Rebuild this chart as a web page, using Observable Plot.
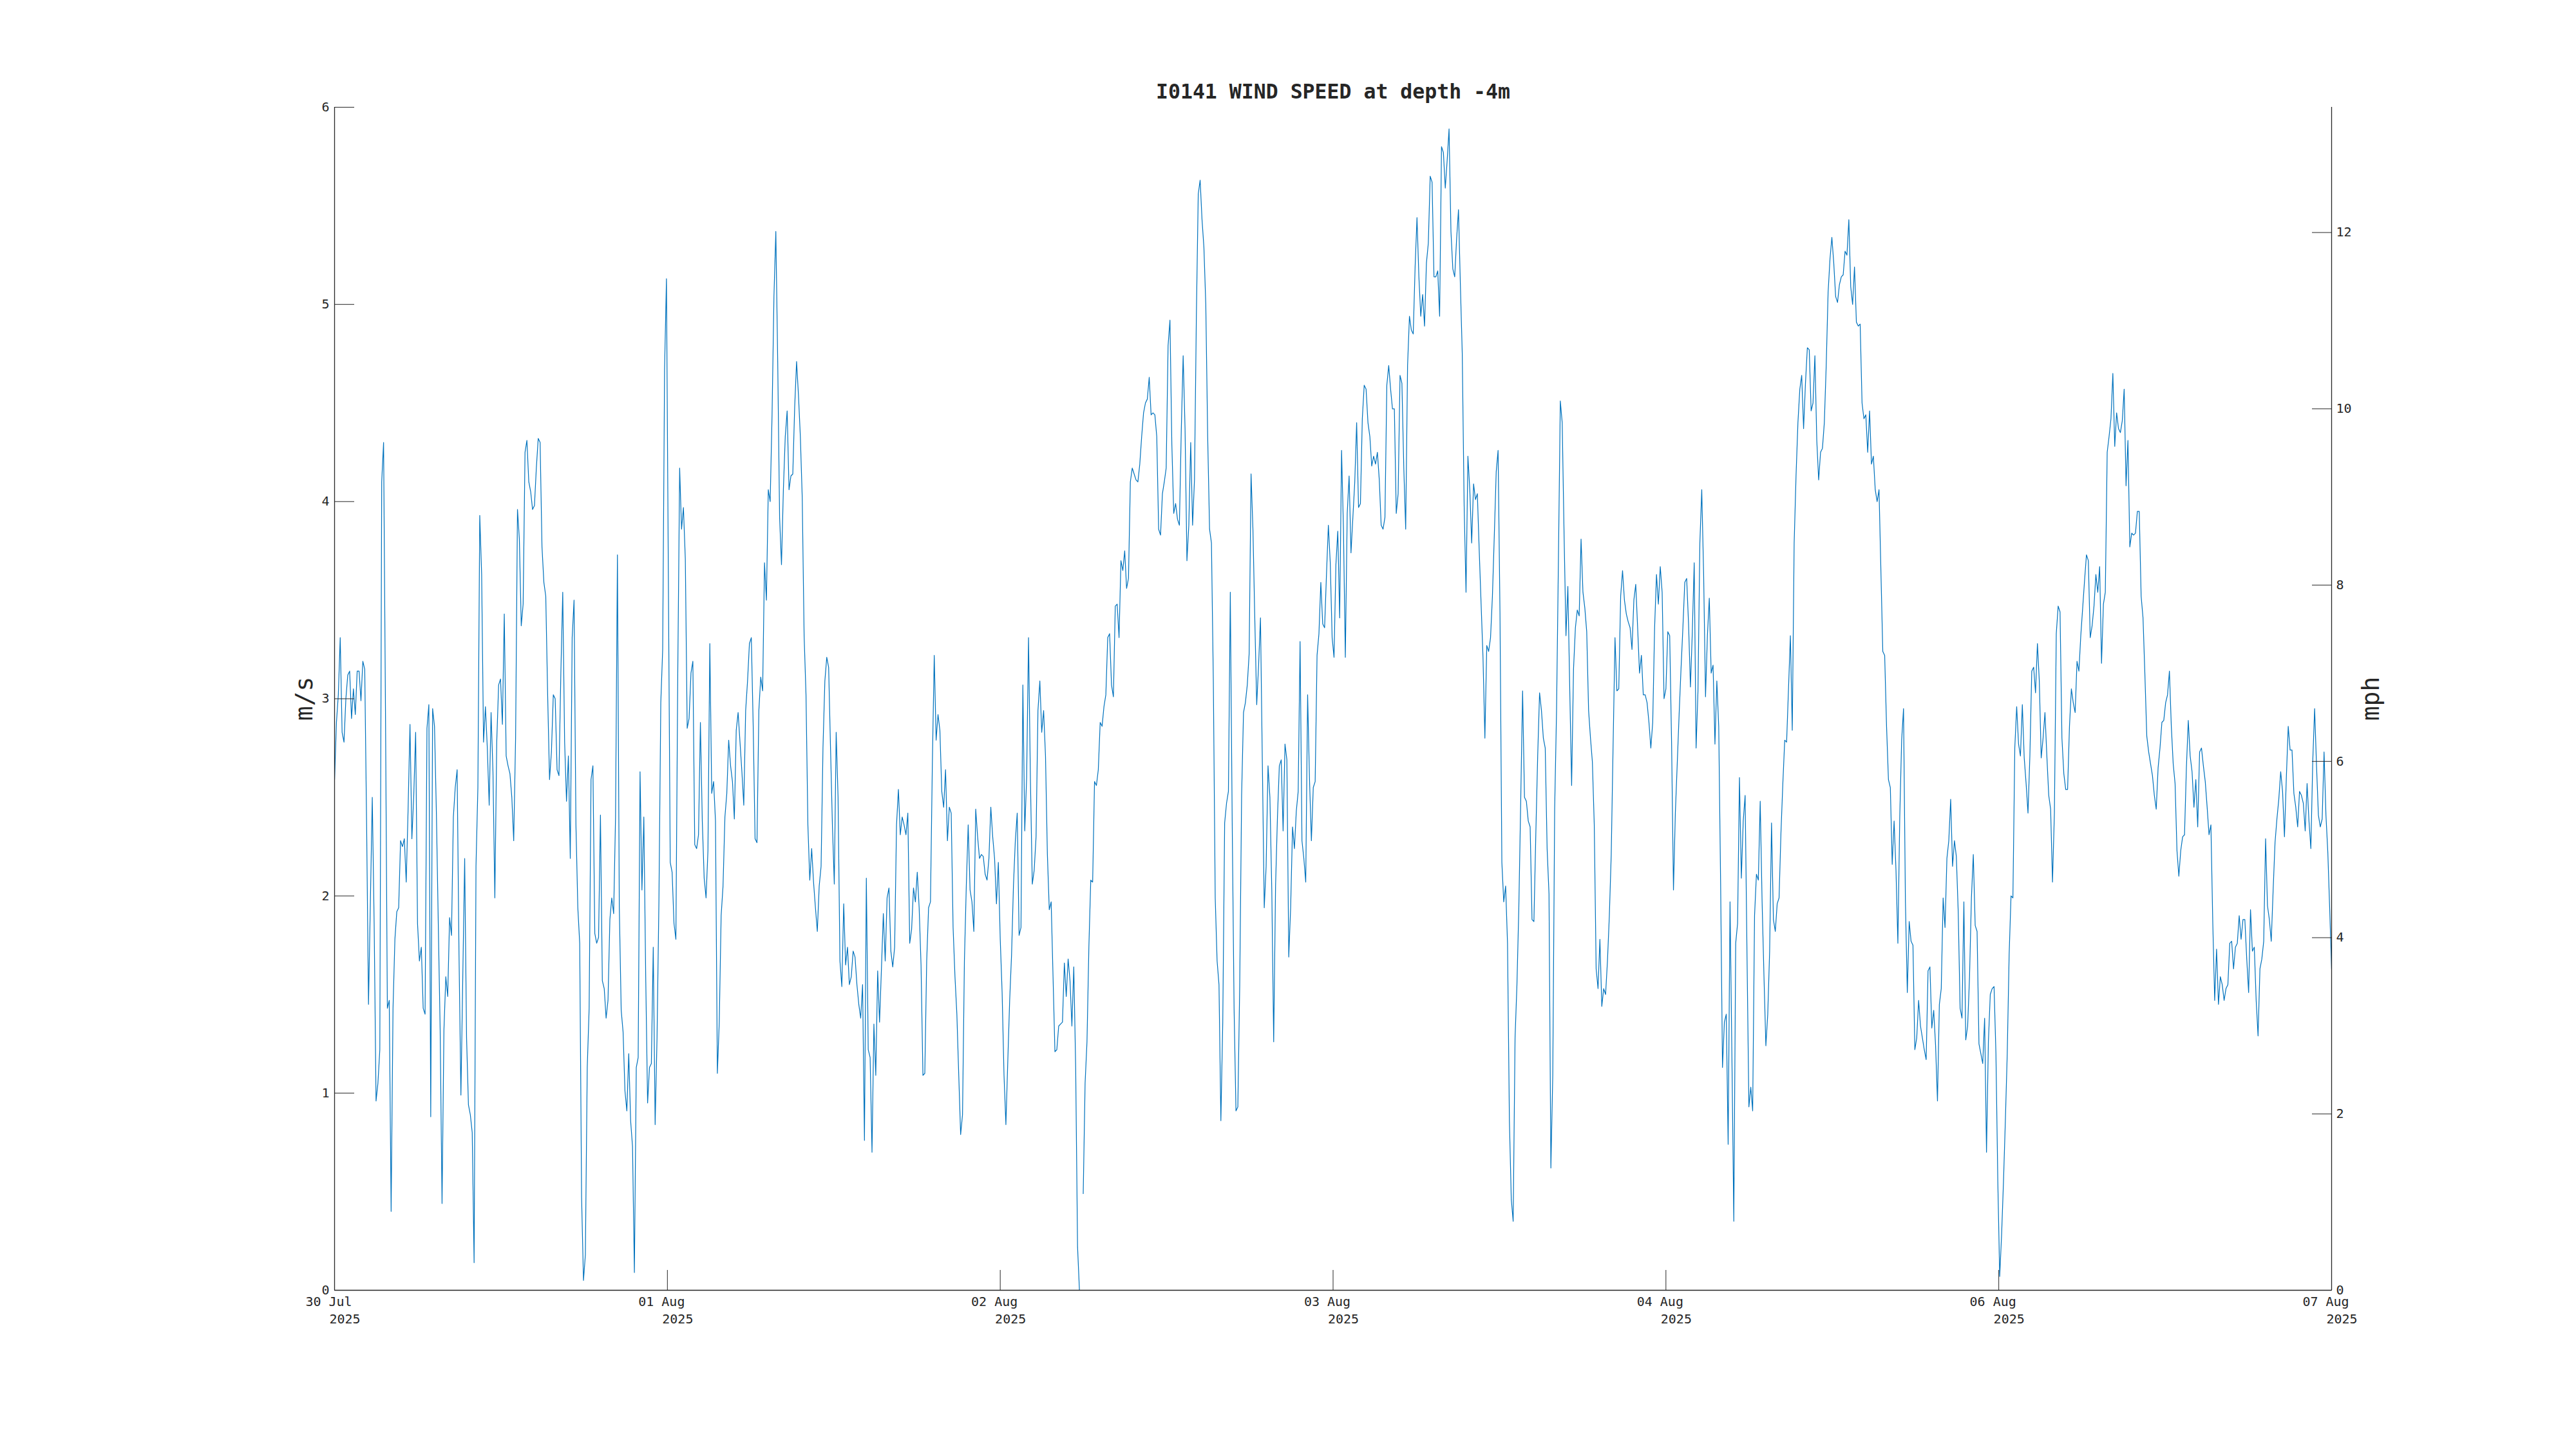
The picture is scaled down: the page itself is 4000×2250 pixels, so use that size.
<!DOCTYPE html>
<html>
<head>
<meta charset="utf-8">
<script src="https://cdn.jsdelivr.net/npm/d3@7"></script>
<script src="https://cdn.jsdelivr.net/npm/@observablehq/plot@0.6"></script>
<style>
html, body { margin: 0; padding: 0; background: #ffffff; }
svg { display: block; }
</style>
</head>
<body>
<div id="chart"></div>
<script>
const chartTitle = "I0141 WIND SPEED at depth -4m";
const leftLabel = "m/s";
const rightLabel = "mph";
const dayLabels = ["30 Jul", "01 Aug", "02 Aug", "03 Aug", "04 Aug", "06 Aug", "07 Aug"];
const yearLabel = "2025";
const msTicks = [0, 1, 2, 3, 4, 5, 6];
const mphTicks = [0, 2, 4, 6, 8, 10, 12];
const MS_TO_MPH = 2.23694;
const startTime = Date.UTC(2025, 6, 31);
const endTime = Date.UTC(2025, 7, 6);

// wind speed (m/s), equally spaced samples
const windSpeed = [
2.59,2.88,3.02,3.31,2.83,2.78,3.00,3.12,3.14,2.90,
3.05,2.92,3.14,3.14,2.99,3.19,3.15,2.36,1.45,1.97,
2.50,1.86,0.96,1.05,1.22,4.10,4.30,2.94,1.43,1.47,
0.40,1.43,1.78,1.92,1.94,2.28,2.25,2.29,2.07,2.44,
2.87,2.29,2.51,2.83,1.86,1.67,1.74,1.43,1.40,2.85,
2.97,0.88,2.95,2.86,2.42,1.86,1.32,0.44,1.32,1.59,
1.49,1.89,1.80,2.40,2.55,2.64,1.70,0.99,1.59,2.19,
1.28,0.94,0.89,0.80,0.14,2.15,2.55,3.93,3.63,2.78,
2.96,2.75,2.46,2.93,2.63,1.99,2.78,3.07,3.10,2.87,
3.43,2.71,2.66,2.62,2.50,2.28,2.80,3.96,3.81,3.37,
3.48,4.25,4.31,4.10,4.05,3.96,3.98,4.17,4.32,4.30,
3.77,3.59,
3.52,3.02,2.59,2.73,3.02,3.00,2.64,2.61,3.13,3.54,
2.78,2.48,2.71,2.19,3.31,3.50,2.36,1.94,1.76,0.47,
0.05,0.18,1.13,1.43,2.59,2.66,1.81,1.76,1.79,2.41,
1.57,1.53,1.38,1.47,1.88,1.99,1.91,2.40,3.73,1.94,
1.42,1.31,1.01,0.91,1.20,0.86,0.73,0.09,1.13,1.18,
2.63,2.03,2.40,1.59,0.95,1.13,1.15,1.74,0.84,1.28,
1.97,2.98,3.25,4.67,5.13,3.63,2.17,2.12,1.86,1.78,
3.13,4.17,3.86,3.97,3.71,2.85,2.90,3.13,3.19,2.26,
2.24,2.31,2.88,2.38,2.09,1.99,2.23,3.28,2.52,2.58,
2.38,1.10,1.36,1.90,2.05,2.40,2.52,2.79,2.66,2.58,
2.39,2.84,2.93,2.78,2.63,2.46,2.94,3.09,3.28,
3.31,2.86,2.29,2.27,2.94,3.11,3.04,3.69,3.50,4.06,
4.00,4.44,5.04,5.37,4.71,3.92,3.68,4.06,4.33,4.46,
4.06,4.13,4.14,4.48,4.71,4.54,4.33,4.02,3.32,3.02,
2.36,2.08,2.24,2.07,1.94,1.82,2.05,2.15,2.75,3.09,
3.21,3.16,2.75,2.36,2.06,2.83,2.50,1.67,1.54,1.96,
1.65,1.74,1.55,1.59,1.72,1.69,1.55,1.45,1.38,1.55,
0.76,2.09,1.22,1.18,0.70,1.35,1.09,1.62,1.36,1.63,
1.91,1.67,1.99,2.04,1.72,1.64,1.74,2.36,2.54,2.31,
2.40,2.36,2.31,2.42,1.76,1.83,2.04,1.97,2.12,1.94,
1.65,1.09,1.10,1.67,1.94,1.97,2.67,3.22,2.79,2.92,
2.84,2.53,2.45,2.64,2.28,2.45,2.42,1.84,1.59,
1.40,1.09,0.79,0.89,1.67,2.05,2.36,2.03,1.97,1.82,
2.44,2.30,2.19,2.21,2.20,2.11,2.08,2.19,2.45,2.30,
2.19,1.96,2.17,1.78,1.51,1.09,0.84,1.16,1.47,1.70,
2.05,2.28,2.42,1.80,1.84,3.07,2.33,2.60,3.31,2.59,
2.06,2.13,2.30,2.94,3.09,2.83,2.94,2.71,2.21,1.93,
1.97,1.59,1.21,1.22,1.34,1.35,1.36,1.66,1.49,1.68,
1.57,1.34,1.64,1.13,0.22,0.00,NaN,0.49,1.05,1.26,
1.74,2.08,2.07,2.58,2.56,2.64,2.88,2.86,2.96,3.02,
3.31,3.33,3.07,3.01,3.47,3.48,3.31,3.70,3.65,3.75,
3.56,3.61,4.10,4.17,4.14,4.11,4.10,4.19,4.33,4.45,
4.50,4.52,4.63,4.44,4.45,4.44,4.33,3.86,3.83,4.04,
4.10,4.17,4.79,4.92,4.29,3.94,3.99,3.91,3.88,4.36,
4.74,4.37,3.70,3.88,4.30,3.88,4.11,4.94,5.56,5.63,
5.43,5.29,5.00,4.33,3.86,3.79,3.09,1.99,1.67,1.55,
0.86,1.36,2.37,2.47,2.53,3.54,2.38,1.43,0.91,0.93,
1.55,2.51,2.93,2.98,3.07,3.23,4.14,3.86,3.40,2.97,
3.17,3.41,2.67,1.94,2.15,2.66,2.50,2.03,1.26,2.05,
2.40,2.66,2.69,2.33,2.77,2.69,1.69,1.94,2.35,2.24,
2.43,2.53,3.29,2.28,2.19,2.07,3.02,2.59,2.28,2.55,
2.58,3.22,3.33,3.59,3.38,3.36,3.63,3.88,3.69,3.31,
3.21,3.68,3.85,3.41,4.26,3.86,3.21,3.94,4.13,3.74,
3.92,4.10,4.40,3.97,3.99,4.42,4.59,4.57,4.40,
4.33,4.18,4.23,4.19,4.25,4.11,3.88,3.86,3.92,4.59,
4.69,4.57,4.47,4.47,3.94,4.04,4.64,4.60,4.17,3.86,
4.69,4.94,4.87,4.85,5.19,5.44,5.14,4.94,5.05,4.89,
5.21,5.31,5.65,5.62,5.14,5.14,5.17,4.94,5.80,5.77,
5.59,5.73,5.89,5.37,5.18,5.14,5.33,5.48,5.10,4.75,
3.98,3.54,4.23,4.06,3.79,4.09,4.01,4.04,3.75,3.48,
3.21,2.80,3.27,3.24,3.31,3.52,3.83,4.15,4.26,3.44,
2.17,1.97,2.05,1.76,0.86,0.46,0.35,1.28,1.55,1.94,
2.48,3.04,2.50,2.48,2.38,2.35,1.88,1.87,2.31,2.71,
3.03,2.94,2.80,2.75,2.24,2.01,0.62,1.09,2.44,2.94,
3.71,4.51,4.40,3.83,3.32,3.57,3.05,2.56,3.15,
3.36,3.45,3.42,3.81,3.54,3.46,3.34,2.94,2.80,2.68,
2.36,1.63,1.53,1.78,1.44,1.53,1.50,1.67,1.90,2.21,
2.77,3.31,3.04,3.05,3.52,3.65,3.50,3.43,3.39,3.36,
3.25,3.50,3.58,3.36,3.13,3.22,3.02,3.02,2.98,2.88,
2.75,2.88,3.36,3.63,3.48,3.67,3.54,3.00,3.05,3.34,
3.32,2.78,2.03,2.42,2.67,2.92,3.15,3.36,3.59,3.61,
3.38,3.06,3.34,3.69,2.75,3.04,3.79,4.06,3.63,3.01,
3.32,3.51,3.13,3.17,2.77,3.09,2.86,2.07,1.13,1.36,
1.40,0.74,1.97,1.18,0.35,1.76,1.86,2.60,2.09,2.38,
2.51,1.70,0.93,1.03,0.91,1.90,2.11,2.08,2.48,1.97,
1.59,1.24,1.40,1.72,2.37,1.88,1.82,1.96,1.99,
2.32,2.57,2.79,2.78,3.05,3.32,2.84,3.79,4.13,4.40,
4.57,4.64,4.37,4.60,4.78,4.77,4.46,4.50,4.74,4.31,
4.11,4.25,4.27,4.40,4.69,5.06,5.23,5.34,5.21,5.04,
5.01,5.10,5.14,5.15,5.27,5.25,5.43,5.09,5.00,5.19,
4.91,4.89,4.90,4.50,4.42,4.44,4.25,4.46,4.19,4.23,
4.06,4.00,4.06,3.65,3.24,3.22,2.86,2.59,2.55,2.16,
2.38,2.13,1.76,2.40,2.79,2.95,1.97,1.51,1.87,1.77,
1.75,1.22,1.28,1.47,1.34,1.28,1.22,1.17,1.62,1.64,
1.33,1.42,1.24,0.96,1.45,1.53,1.99,1.84,2.19,2.28,
2.49,2.15,2.28,2.20,1.92,1.43,1.38,1.97,1.27,1.34,
1.59,1.99,2.21,1.85,1.82,1.25,1.20,1.15,1.38,0.70,
1.26,1.50,1.53,1.54,1.20,0.55,0.07,0.28,0.55,0.86,
1.20,1.70,2.00,1.99,2.75,2.96,2.77,2.71,2.97,2.70,
2.57,2.42,2.71,3.14,3.16,3.03,3.28,3.09,2.70,2.80,
2.93,2.71,2.51,2.44,2.07,2.42,3.33,3.47,3.44,2.80,
2.62,2.54,2.54,2.86,3.05,2.98,2.93,3.19,3.14,3.32,
3.46,3.60,3.73,3.70,3.31,3.37,3.47,3.63,3.54,3.67,
3.18,3.48,3.54,4.25,4.33,4.42,4.65,4.28,4.45,4.37,
4.35,4.41,4.57,4.08,4.31,3.77,3.84,3.83,3.84,3.95,
3.95,3.52,3.41,3.12,2.81,2.73,2.67,2.61,2.51,2.44,
2.65,2.75,2.88,2.89,2.98,3.02,3.14,2.86,2.67,2.57,
2.23,2.10,2.23,2.30,2.31,2.65,2.89,2.71,2.63,
2.45,2.59,2.35,2.73,2.75,2.66,2.58,2.45,2.31,2.36,
1.86,1.47,1.73,1.45,1.59,1.55,1.47,1.53,1.55,1.76,
1.77,1.63,1.74,1.76,1.90,1.78,1.88,1.88,1.68,1.51,
1.93,1.72,1.74,1.47,1.29,1.63,1.68,1.77,2.29,1.95,
1.88,1.77,2.03,2.27,2.39,2.49,2.63,2.53,2.30,2.60,
2.86,2.74,2.74,2.52,2.45,2.35,2.53,2.51,2.47,2.33,
2.57,2.38,2.24,2.68,2.95,2.66,2.41,2.35,2.39,2.73,
2.41,2.22,1.93,1.63
];

const sampleStep = (endTime - startTime) / (windSpeed.length - 1);
const series = windSpeed.map((v, i) => ({ t: new Date(startTime + i * sampleStep), v }));
const tickDates = d3.utcDay.range(new Date(startTime), new Date(endTime + 1));

const ink = "#262626";
const lineColor = "#0072BD";

const chart = Plot.plot({
  width: 4000,
  height: 2250,
  marginLeft: 519,
  marginRight: 380,
  marginTop: 166,
  marginBottom: 247,
  style: {
    fontFamily: "'DejaVu Sans Mono', monospace",
    fontSize: "20px",
    color: ink,
    background: "#ffffff"
  },
  x: { type: "utc", domain: [new Date(startTime), new Date(endTime)] },
  y: { domain: [0, 6] },
  marks: [
    Plot.line(series, { x: "t", y: "v", stroke: lineColor, strokeWidth: 1.2, clip: true }),
    Plot.ruleY([0], { stroke: ink, strokeWidth: 1.3 }),
    Plot.ruleX([new Date(startTime)], { stroke: ink, strokeWidth: 1.3 }),
    Plot.ruleX([new Date(endTime)], { stroke: ink, strokeWidth: 1.3 }),
    Plot.axisY({ anchor: "left", ticks: msTicks, tickFormat: (d) => String(d), tickSize: -31, tickPadding: 39, label: null }),
    Plot.axisY({
      anchor: "right",
      ticks: mphTicks.map((m) => m / MS_TO_MPH),
      tickFormat: (d) => String(Math.round(d * MS_TO_MPH)),
      tickSize: -31,
      tickPadding: 38,
      label: null
    }),
    Plot.axisX({ ticks: tickDates, tickSize: -31, tickFormat: () => "", label: null }),
    Plot.text(tickDates, { x: (d) => d, text: (d, i) => dayLabels[i], frameAnchor: "bottom", lineAnchor: "top", dy: 10, dx: -9 }),
    Plot.text(tickDates, { x: (d) => d, text: () => yearLabel, frameAnchor: "bottom", lineAnchor: "top", dy: 37, dx: 16 }),
    Plot.text([chartTitle], { frameAnchor: "top", lineAnchor: "bottom", dy: -14, fontWeight: "bold", fontSize: 31.5 }),
    Plot.text([leftLabel], { frameAnchor: "left", rotate: -90, textAnchor: "middle", dx: -47, fontSize: 38 }),
    Plot.text([rightLabel], { frameAnchor: "right", rotate: -90, textAnchor: "middle", dx: 61, fontSize: 38 })
  ]
});

document.getElementById("chart").appendChild(chart);
</script>
</body>
</html>
